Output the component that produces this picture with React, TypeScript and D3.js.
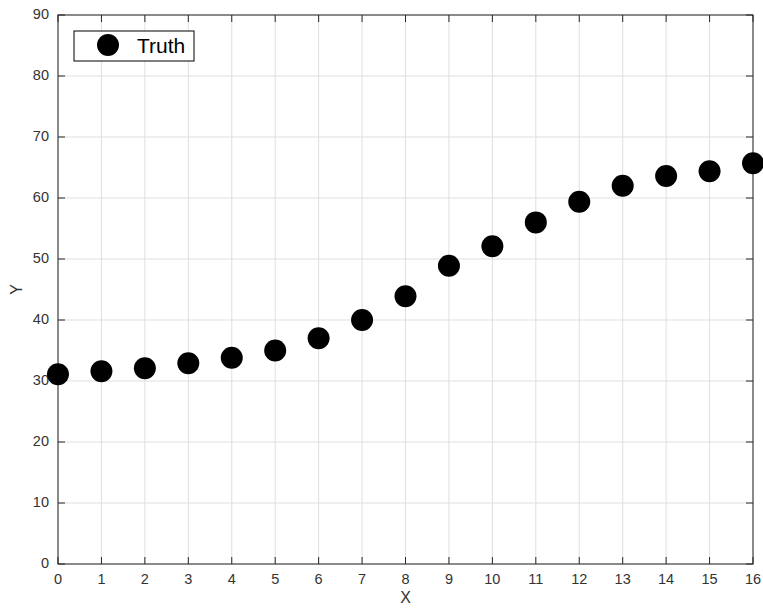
import React from "react";
import * as d3 from "d3";

const xValues = [0, 1, 2, 3, 4, 5, 6, 7, 8, 9, 10, 11, 12, 13, 14, 15, 16];
const yValues = [31.1, 31.6, 32.1, 32.9, 33.8, 35.0, 37.0, 40.0, 43.9, 48.9, 52.1, 56.0, 59.4, 62.0, 63.6, 64.4, 65.7];
const xTicks = [0, 1, 2, 3, 4, 5, 6, 7, 8, 9, 10, 11, 12, 13, 14, 15, 16];
const yTicks = [0, 10, 20, 30, 40, 50, 60, 70, 80, 90];
const seriesName = "Truth";

export default function App() {
  const W = 763, H = 608;
  const left = 58, right = 753, top = 15, bottom = 564;
  const x = d3.scaleLinear().domain([0, 16]).range([left, right]);
  const y = d3.scaleLinear().domain([0, 90]).range([bottom, top]);
  const font = "Liberation Sans, Arial, Helvetica, sans-serif";
  const axisColor = "#262626";
  const textColor = "#333333";
  const tickLen = 7;
  return (
    <svg width={W} height={H} style={{ position: "absolute", left: 0, top: 0 }} fontFamily={font}>
      <rect x={0} y={0} width={W} height={H} fill="#fff" />
      {/* grid */}
      {xTicks.map((t) => (
        <line key={"gx" + t} x1={x(t)} x2={x(t)} y1={top} y2={bottom} stroke="#dfdfdf" strokeWidth={1} />
      ))}
      {yTicks.map((t) => (
        <line key={"gy" + t} x1={left} x2={right} y1={y(t)} y2={y(t)} stroke="#dfdfdf" strokeWidth={1} />
      ))}
      {/* ticks */}
      {xTicks.map((t) => (
        <g key={"tx" + t}>
          <line x1={x(t)} x2={x(t)} y1={bottom} y2={bottom - tickLen} stroke={axisColor} />
          <line x1={x(t)} x2={x(t)} y1={top} y2={top + tickLen} stroke={axisColor} />
          <text x={x(t)} y={583.5} textAnchor="middle" fontSize={14.5} fill={textColor}>{t}</text>
        </g>
      ))}
      {yTicks.map((t) => (
        <g key={"ty" + t}>
          <line x1={left} x2={left + tickLen} y1={y(t)} y2={y(t)} stroke={axisColor} />
          <line x1={right} x2={right - tickLen} y1={y(t)} y2={y(t)} stroke={axisColor} />
          <text x={49} y={y(t) + 3.5} textAnchor="end" fontSize={14.5} fill={textColor}>{t}</text>
        </g>
      ))}
      {/* box */}
      <rect x={left} y={top} width={right - left} height={bottom - top} fill="none" stroke={axisColor} strokeWidth={1} />
      {/* points */}
      {xValues.map((xv, i) => (
        <circle key={"p" + i} cx={x(xv)} cy={y(yValues[i])} r={11} fill="#000" />
      ))}
      {/* labels */}
      <text x={(left + right) / 2} y={603} textAnchor="middle" fontSize={16} fill={textColor}>X</text>
      <text transform={`translate(22, ${(top + bottom) / 2}) rotate(-90)`} textAnchor="middle" fontSize={16} fill={textColor}>Y</text>
      {/* legend */}
      <rect x={74} y={31} width={120} height={30} fill="#fff" stroke="#000" strokeWidth={1} />
      <circle cx={108} cy={45} r={11} fill="#000" />
      <text x={137} y={52.5} fontSize={21} fill="#000">{seriesName}</text>
    </svg>
  );
}
